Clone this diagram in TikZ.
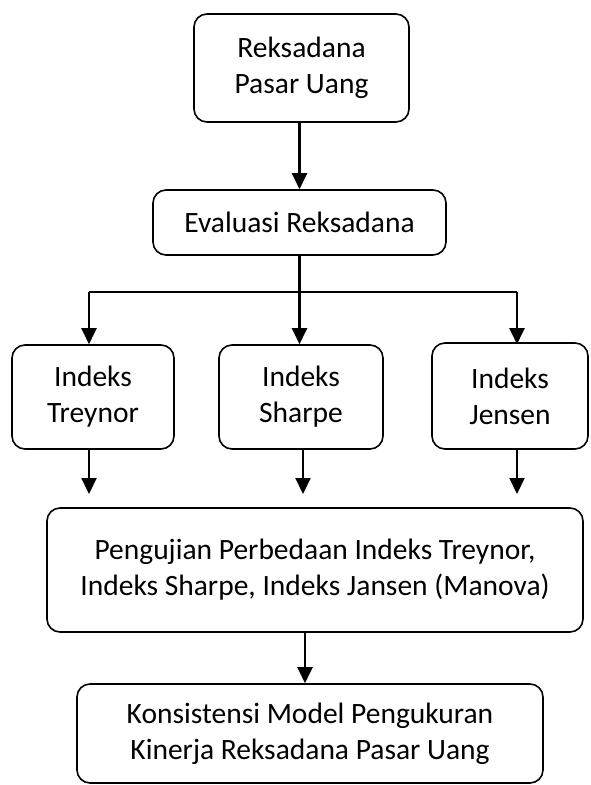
\documentclass[tikz,border=0pt]{standalone}
\usepackage{fontspec}
\setmainfont{Carlito}
\usetikzlibrary{arrows.meta}

\begin{document}
\begin{tikzpicture}[x=1pt,y=-1pt,
		kotak/.style={draw, line width=1.6pt, rounded corners=13pt, align=center, inner sep=0pt, font=\fontsize{29.5}{36}\selectfont},
		panah/.style={-{Triangle[width=15pt,length=16pt]}, line width=2.2pt}]
			\useasboundingbox (0,0) rectangle (591,785);
			% kotak-kotak
			\node[kotak, minimum width=215pt, minimum height=108pt] (rpu) at (301.5,68) {Reksadana\\Pasar Uang};
			\node[kotak, minimum width=293pt, minimum height=65pt] (eval) at (299.5,222.5) {Evaluasi Reksadana};
			\node[kotak, minimum width=162pt, minimum height=104pt] (treynor) at (93,397) {Indeks\\Treynor};
			\node[kotak, minimum width=164pt, minimum height=104pt] (sharpe) at (301,397) {Indeks\\Sharpe};
			\node[kotak, minimum width=156pt, minimum height=106pt] (jensen) at (510,396) {Indeks\\Jensen};
			\node[kotak, minimum width=536pt, minimum height=124pt] (uji) at (315,570) {Pengujian Perbedaan Indeks Treynor,\\Indeks Sharpe, Indeks Jansen (Manova)};
			\node[kotak, minimum width=466pt, minimum height=99pt] (konsisten) at (310,733.5) {Konsistensi Model Pengukuran\\Kinerja Reksadana Pasar Uang};
			
			% titik bantu
			\coordinate (cabangkiri) at (89,292);
			\coordinate (cabangkanan) at (517,292);
			\coordinate (ujungt) at (89,494);
			\coordinate (ujungs) at (303,494);
			\coordinate (ujungj) at (517,494);
			\coordinate (tengahbawah) at (305,632);
			
			% panah
			\draw[panah] (rpu.south -| eval.north) -- (eval.north);
			\draw[panah] (eval.south) -- (eval.south |- sharpe.north);
			\draw[line width=2.2pt] (cabangkiri) -- (cabangkanan);
			\foreach \t in {cabangkiri,cabangkanan}
			\draw[panah] (\t) -- (\t |- treynor.north);
			\foreach \b/\u in {treynor/ujungt,sharpe/ujungs,jensen/ujungj}
			\draw[panah] (\u |- \b.south) -- (\u);
			\draw[panah] (tengahbawah) -- (tengahbawah |- konsisten.north);
		\end{tikzpicture}
\end{document}
